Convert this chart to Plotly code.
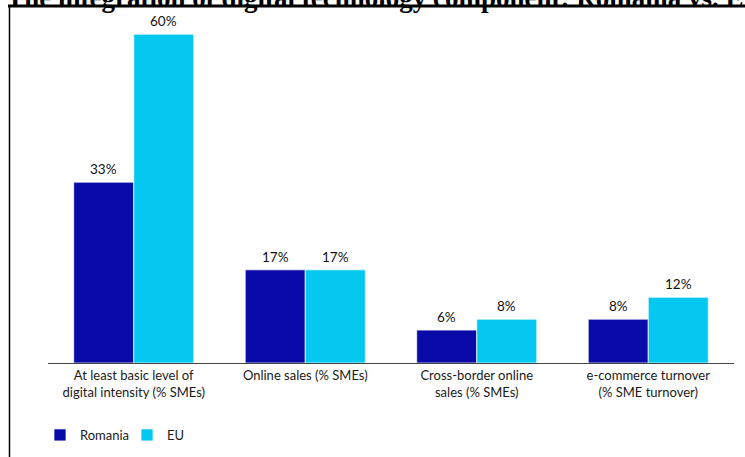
import plotly.graph_objects as go

categories = ["At least basic level of<br>digital intensity (% SMEs)",
              "Online sales (% SMEs)",
              "Cross-border online<br>sales (% SMEs)",
              "e-commerce turnover<br>(% SME turnover)"]
romania = [33, 17, 6, 8]
eu = [60, 17, 8, 12]
series_names = ["Romania", "EU"]
title_text = "Figure 4. The integration of digital technology component: Romania vs. EU"

W, H = 745, 457
L, R, T, B = 48, 11, 20, 94
pw, ph = W - L - R, H - T - B

def px_x(px):
    return (px - L) / pw

def px_y(py):
    return (H - B - py) / ph

font = dict(family="Lato, Open Sans, sans-serif", size=13, color="#1a1a1a")
label_font = dict(family="Lato, Open Sans, sans-serif", size=13.5, color="#111111")
colors = ["#0A0AA8", "#05C8F0"]

fig = go.Figure()
for name, vals, col in zip(series_names, [romania, eu], colors):
    fig.add_bar(x=categories, y=vals, name=name,
                marker=dict(color=col, line=dict(color="rgba(255,255,255,0.7)", width=1)),
                cliponaxis=False)

# value labels above bars
bar_half = 30
for i, vals in enumerate([romania, eu]):
    shift = -bar_half if i == 0 else bar_half
    for c, v in zip(categories, vals):
        fig.add_annotation(x=c, y=v, text=f"{v}%", showarrow=False,
                           xref="x", yref="y", xshift=shift, yshift=3,
                           yanchor="bottom", font=label_font)

fig.update_layout(
    width=W, height=H,
    margin=dict(l=L, r=R, t=T, b=B, pad=0, autoexpand=False),
    paper_bgcolor="white", plot_bgcolor="white",
    barmode="group", bargap=0.30, bargroupgap=0.0,
    font=font,
    showlegend=True,
    legend=dict(orientation="h", xref="container", yref="container",
                x=40 / W, xanchor="left", y=(H - 435) / H, yanchor="middle",
                font=font, itemwidth=30, entrywidth=42, entrywidthmode="pixels",
                traceorder="normal"),
    xaxis=dict(showline=True, linecolor="#444444", linewidth=1, ticks="",
               tickfont=font, showgrid=False, zeroline=False, automargin=False),
    yaxis=dict(visible=False, range=[0, ph / 5.48], showgrid=False, zeroline=False),
)

# frame lines of the page
fig.add_shape(type="line", xref="paper", yref="paper",
              x0=px_x(8), x1=px_x(746), y0=px_y(6), y1=px_y(6),
              line=dict(color="black", width=3))
fig.add_shape(type="line", xref="paper", yref="paper",
              x0=px_x(9.5), x1=px_x(9.5), y0=px_y(6), y1=px_y(460),
              line=dict(color="black", width=1.5))

# clipped title above the frame
fig.add_annotation(text=title_text, xref="paper", yref="paper",
                   x=px_x(-105), y=px_y(15.5), xanchor="left", yanchor="bottom",
                   showarrow=False,
                   font=dict(family="Liberation Serif, Times New Roman, serif",
                             size=27, color="black", weight="bold"))

fig.write_html("out.html", config={"displayModeBar": False},
               post_script="document.body.style.margin='0px';")
